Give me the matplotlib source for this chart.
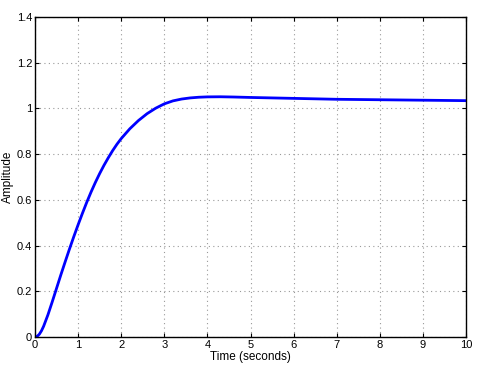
import numpy as np
import matplotlib
matplotlib.use("Agg")
import matplotlib.pyplot as plt
from matplotlib.ticker import FuncFormatter

# step response
t = [0, 0.05, 0.1, 0.15, 0.2, 0.3, 0.4, 0.5, 0.6, 0.7, 0.8, 0.9, 1.0, 1.1, 1.2,
     1.3, 1.4, 1.5, 1.6, 1.7, 1.8, 1.9, 2.0, 2.2, 2.4, 2.6, 2.8, 3.0, 3.2, 3.4,
     3.6, 3.8, 4.0, 4.3, 4.6, 5.0, 5.5, 6, 7, 8, 9, 10]
amp = [0, 0.003, 0.012, 0.027, 0.047, 0.097, 0.154, 0.213, 0.272, 0.329, 0.385,
       0.439, 0.491, 0.541, 0.589, 0.634, 0.676, 0.715, 0.751, 0.784, 0.815, 0.843,
       0.868, 0.911, 0.947, 0.977, 1.001, 1.020, 1.033, 1.041, 1.046, 1.049,
       1.0505, 1.051, 1.050, 1.048, 1.046, 1.044, 1.040, 1.038, 1.036, 1.034]
xticks = list(range(0, 11))
yticks = [0, 0.2, 0.4, 0.6, 0.8, 1.0, 1.2, 1.4]

plt.rcParams["font.family"] = ["Liberation Sans", "DejaVu Sans"]
fig = plt.figure(figsize=(4.78, 3.76), dpi=100, facecolor="white")
ax = fig.add_axes([35/478, 39/376, 431/478, 320/376])
ax.plot(t, amp, color="#0000ff", lw=2)
ax.set_xlim(0, 10); ax.set_ylim(0, 1.4)
ax.set_xticks(xticks); ax.set_yticks(yticks)
ax.yaxis.set_major_formatter(FuncFormatter(lambda v, p: f"{v:g}"))
ax.tick_params(direction="in", top=True, right=True, labelsize=8, length=3, pad=2)
ax.grid(True, ls=(0, (1, 3)), color="#999999", lw=0.8)
for sp in ax.spines.values(): sp.set_linewidth(1)
ax.set_xlabel("Time (seconds)", fontsize=8.5, labelpad=1)
ax.set_ylabel("Amplitude", fontsize=8.5)
ax.yaxis.set_label_coords(-0.049, 0.5)
fig.savefig("out.png", dpi=100)
